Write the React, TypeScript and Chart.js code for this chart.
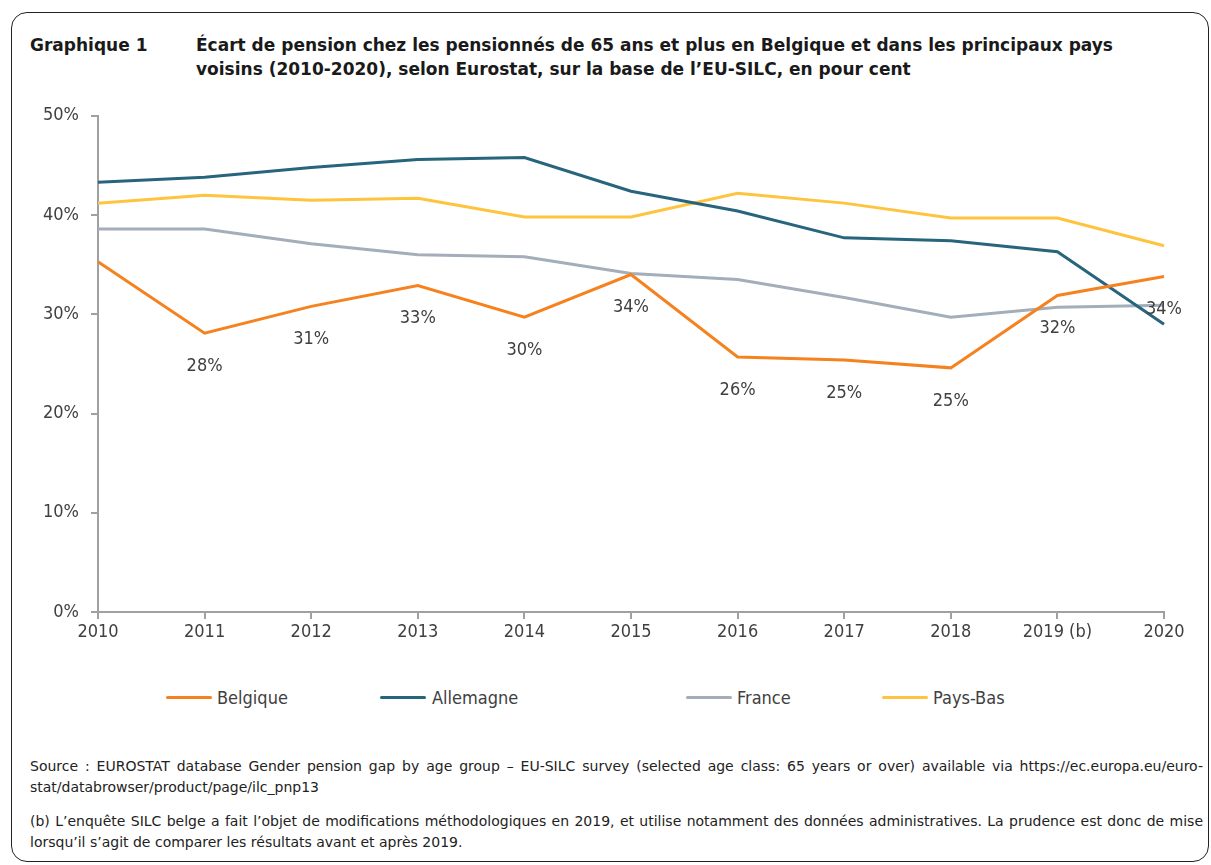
import React, { useEffect, useRef } from "react";
import { Chart, registerables } from "chart.js";

Chart.register(...registerables);

const years = ["2010", "2011", "2012", "2013", "2014", "2015", "2016", "2017", "2018", "2019 (b)", "2020"];
const belgique = [35.3, 28.1, 30.8, 32.9, 29.7, 34.0, 25.7, 25.4, 24.6, 31.9, 33.8];
const allemagne = [43.3, 43.8, 44.8, 45.6, 45.8, 42.4, 40.4, 37.7, 37.4, 36.3, 29.0];
const france = [38.6, 38.6, 37.1, 36.0, 35.8, 34.1, 33.5, 31.7, 29.7, 30.7, 30.9];
const paysBas = [41.2, 42.0, 41.5, 41.7, 39.8, 39.8, 42.2, 41.2, 39.7, 39.7, 36.9];
const yTicks = [0, 10, 20, 30, 40, 50];

const seriesNames = ["Belgique", "Allemagne", "France", "Pays-Bas"];
const seriesColors = ["#F5821F", "#27657D", "#A3AEBA", "#FFC43D"];

const FONT = "'DejaVu Sans Condensed', 'DejaVu Sans', sans-serif";
const FONT_WIDE = "'DejaVu Sans', sans-serif";
const TEXT = "#404040";

const labelPlugin = {
  id: "belgiumLabels",
  afterDatasetsDraw(chart: any) {
    const meta = chart.getDatasetMeta(0);
    const ctx = chart.ctx;
    ctx.save();
    ctx.font = `18px ${FONT}`;
    ctx.fillStyle = TEXT;
    ctx.textAlign = "center";
    ctx.textBaseline = "middle";
    meta.data.forEach((pt: any, i: number) => {
      if (i === 0) return;
      const v = belgique[i];
      ctx.fillText(Math.round(v) + "%", pt.x, pt.y + 33);
    });
    ctx.restore();
  },
};

function ChartCanvas() {
  const ref = useRef<HTMLCanvasElement>(null);
  useEffect(() => {
    if (!ref.current) return;
    const data = [belgique, allemagne, france, paysBas];
    const chart = new Chart(ref.current, {
      type: "line",
      data: {
        labels: years,
        datasets: data.map((d, i) => ({
          label: seriesNames[i],
          data: d,
          borderColor: seriesColors[i],
          backgroundColor: seriesColors[i],
          borderWidth: 3,
          pointRadius: 0,
          tension: 0,
          fill: false,
          order: i,
        })),
      },
      options: {
        responsive: false,
        animation: false,
        layout: { padding: { top: 8, right: 47, left: 0, bottom: 0 } },
        plugins: { legend: { display: false }, tooltip: { enabled: false } },
        scales: {
          x: {
            offset: false,
            grid: { display: true, drawOnChartArea: false, drawTicks: true, tickLength: 7, color: "#A0A0A0", lineWidth: 2 },
            border: { display: true, color: "#A0A0A0", width: 2 },
            ticks: { color: TEXT, font: { size: 18, family: FONT }, padding: 3, maxRotation: 0, autoSkip: false },
            afterFit: (s: any) => { s.height = 48; },
          },
          y: {
            min: 0,
            max: 50,
            afterBuildTicks: (s: any) => { s.ticks = yTicks.map((v) => ({ value: v })); },
            grid: { display: true, drawOnChartArea: false, drawTicks: true, tickLength: 7, color: "#A0A0A0", lineWidth: 2 },
            border: { display: true, color: "#A0A0A0", width: 2 },
            ticks: { color: TEXT, font: { size: 18, family: FONT }, padding: 12, callback: (v: any) => v + "%" },
            afterFit: (s: any) => { s.width = 98; },
          },
        },
      },
      plugins: [labelPlugin],
    });
    return () => chart.destroy();
  }, []);
  return <canvas ref={ref} width={1211} height={567} style={{ position: "absolute", left: 0, top: 93, width: 1211, height: 567 }} />;
}

const legendPos = [
  { line: 166, text: 217 },
  { line: 380, text: 432 },
  { line: 686, text: 737 },
  { line: 882, text: 933 },
];

export default function App() {
  const lineJust: React.CSSProperties = { textAlign: "justify", textAlignLast: "justify" as any, whiteSpace: "nowrap" };
  return (
    <div style={{ position: "absolute", left: 0, top: 0, width: 1211, height: 865, background: "#fff", fontFamily: FONT, color: TEXT, overflow: "hidden" }}>
      <div style={{ position: "absolute", left: 11, top: 12, width: 1196, height: 848, border: "1.5px solid #222", borderRadius: 16 }} />
      <div style={{ position: "absolute", left: 30, top: 33, fontFamily: FONT_WIDE, fontWeight: "bold", fontSize: 17, lineHeight: "24px", color: "#1a1a1a" }}>Graphique 1</div>
      <div style={{ position: "absolute", left: 196, top: 33, width: 1000, fontFamily: FONT_WIDE, fontWeight: "bold", fontSize: 17, lineHeight: "24px", color: "#1a1a1a" }}>
        <div style={{ whiteSpace: "nowrap" }}>Écart de pension chez les pensionnés de 65 ans et plus en Belgique et dans les principaux pays</div>
        <div style={{ whiteSpace: "nowrap" }}>voisins (2010-2020), selon Eurostat, sur la base de l’EU-SILC, en pour cent</div>
      </div>
      <ChartCanvas />
      {seriesNames.map((n, i) => (
        <React.Fragment key={n}>
          <div style={{ position: "absolute", left: legendPos[i].line, top: 696, width: 46, height: 3, background: seriesColors[i], borderRadius: 2 }} />
          <div style={{ position: "absolute", left: legendPos[i].text, top: 686, fontSize: 18, lineHeight: "24px", color: TEXT }}>{n}</div>
        </React.Fragment>
      ))}
      <div style={{ position: "absolute", left: 30, top: 756, width: 1173, fontFamily: FONT_WIDE, fontSize: 14, lineHeight: "21px", color: "#222" }}>
        <div style={lineJust}>Source : EUROSTAT database Gender pension gap by age group – EU-SILC survey (selected age class: 65 years or over) available via https://ec.europa.eu/euro-</div>
        <div>stat/databrowser/product/page/ilc_pnp13</div>
        <div style={{ ...lineJust, marginTop: 13 }}>(b) L’enquête SILC belge a fait l’objet de modifications méthodologiques en 2019, et utilise notamment des données administratives. La prudence est donc de mise</div>
        <div>lorsqu’il s’agit de comparer les résultats avant et après 2019.</div>
      </div>
    </div>
  );
}
